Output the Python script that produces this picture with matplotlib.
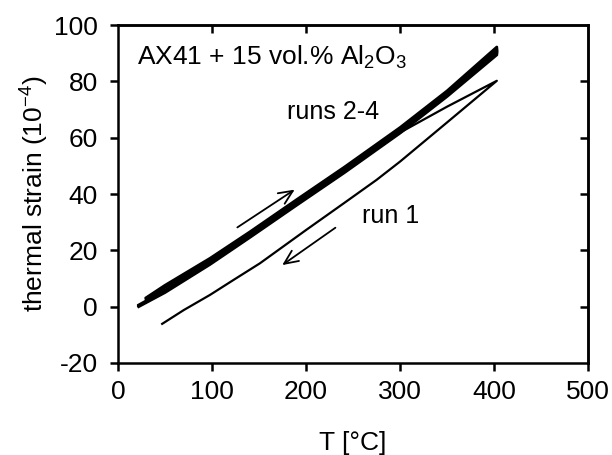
import matplotlib
matplotlib.use("Agg")
import matplotlib.pyplot as plt

plt.rcParams['font.family'] = ['Liberation Sans', 'DejaVu Sans']
plt.rcParams['mathtext.fontset'] = 'custom'
plt.rcParams['mathtext.rm'] = 'Liberation Sans'
plt.rcParams['mathtext.it'] = 'Liberation Sans'
plt.rcParams['mathtext.default'] = 'regular'
plt.rcParams['axes.unicode_minus'] = False

# Temperature grids (°C)
T_heat = [22, 50, 98, 140, 190, 241, 300, 350, 403]
T_cool = [403, 350, 300, 241, 190, 140, 98, 50, 30]

# Runs 2-4: heating and cooling branches (strain, 1e-4)
run2_heat = [0.0, 5.0, 15.0, 24.5, 36.0, 47.6, 61.6, 74.6, 89.4]
run3_heat = [0.3, 5.4, 15.4, 24.9, 36.4, 48.0, 62.0, 75.0, 89.9]
run4_heat = [0.6, 5.8, 15.8, 25.3, 36.8, 48.4, 62.4, 75.4, 90.4]
run2_cool = [91.0, 75.8, 62.8, 48.8, 37.2, 25.7, 16.4, 6.8, 2.6]
run3_cool = [91.6, 76.2, 63.2, 49.2, 37.6, 26.1, 16.8, 7.2, 2.9]
run4_cool = [92.2, 76.6, 63.6, 49.6, 38.0, 26.5, 17.2, 7.6, 3.2]

# Run 1
run1_heat_T = [22, 50, 98, 140, 190, 241, 300, 350, 403]
run1_heat = [0.3, 5.8, 15.8, 25.2, 36.8, 48.2, 61.8, 71.0, 80.2]
run1_cool_T = [403, 350, 300, 275, 241, 200, 151, 122, 98, 70, 47]
run1_cool = [80.2, 65.4, 51.5, 45.0, 36.9, 27.2, 15.4, 9.3, 4.2, -1.2, -6.1]

x_ticks = [0, 100, 200, 300, 400, 500]
y_ticks = [-20, 0, 20, 40, 60, 80, 100]

fig = plt.figure(figsize=(6.12, 4.55), dpi=100)
ax = fig.add_axes([0.1928, 0.2022, 0.768, 0.7428])

for heat, cool in [(run2_heat, run2_cool), (run3_heat, run3_cool), (run4_heat, run4_cool)]:
    ax.plot(T_heat + T_cool, heat + cool, color='black', lw=2.0, solid_joinstyle='round')
ax.plot(run1_heat_T + run1_cool_T, run1_heat + run1_cool, color='black', lw=1.6,
        solid_joinstyle='round')

ax.set_xlim(0, 500)
ax.set_ylim(-20, 100)
ax.set_xticks(x_ticks)
ax.set_yticks(y_ticks)
ax.tick_params(direction='out', length=6, width=1.8, labelsize=19)
ax.tick_params(axis='y', pad=8.5)
ax.tick_params(axis='x', pad=6)
for s in ax.spines.values():
    s.set_linewidth(1.8)

top = ax.secondary_xaxis('top')
top.set_xticks(x_ticks[1:-1])
top.tick_params(direction='in', length=6, width=1.8, labeltop=False)
top.spines['top'].set_linewidth(1.8)
right = ax.secondary_yaxis('right')
right.set_yticks(y_ticks[1:-1])
right.tick_params(direction='in', length=6, width=1.8, labelright=False)
right.spines['right'].set_linewidth(1.8)

ax.set_xlabel('T [°C]', fontsize=19, labelpad=20)
ax.set_ylabel('thermal strain (10$^{-4}$)', fontsize=19, labelpad=2)

ax.text(20, 85.8, 'AX41 + 15 vol.% Al$_2$O$_3$', fontsize=19, va='baseline')
ax.text(179.5, 66.6, 'runs 2-4', fontsize=18, va='baseline')
ax.text(259.3, 29.6, 'run 1', fontsize=18, va='baseline')

arrow = dict(arrowstyle='->,head_length=1.0,head_width=0.45', color='black', lw=1.3)
ax.annotate('', xy=(190.4, 42.1), xytext=(124.5, 27.6), arrowprops=arrow)
ax.annotate('', xy=(172.3, 14.2), xytext=(233.7, 28.6), arrowprops=arrow)

fig.savefig('out.png', dpi=100)
